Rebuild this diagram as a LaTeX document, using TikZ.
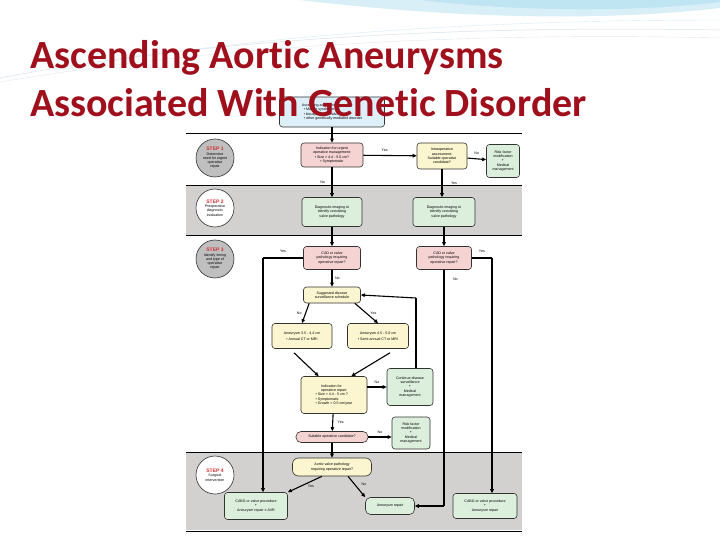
\documentclass[tikz,border=0pt]{standalone}
\usepackage{fontspec}
\setmainfont{Liberation Sans}
\newfontfamily\titlefont[Ligatures={NoCommon,NoRare,NoContextual}]{Carlito}
\usetikzlibrary{arrows.meta}
\definecolor{pinkf}{HTML}{F6D3D3}
\definecolor{yelf}{HTML}{FBF6CF}
\definecolor{grnf}{HTML}{DCEFDD}
\definecolor{bluef}{HTML}{DDF0FA}
\definecolor{band}{HTML}{D3D0D0}
\definecolor{stepred}{HTML}{D03030}
\definecolor{titlered}{HTML}{A0101C}
\definecolor{swoosh}{HTML}{BFE4F2}
\tikzset{
  box/.style={draw=black!80, line width=0.6pt, rounded corners=3pt, align=center,
    font=\fontsize{3.6}{4.3}\selectfont, inner sep=1pt},
  pk/.style={box, fill=pinkf},
  yl/.style={box, fill=yelf},
  gr/.style={box, fill=grnf},
  bl/.style={box, fill=bluef},
  stepc/.style={draw=black!80, line width=0.6pt, circle, minimum size=38pt, inner sep=0pt,
    align=center, font=\fontsize{3.6}{4.3}\selectfont},
  arr/.style={-{Triangle[length=4pt,width=3.5pt]}, line width=1.1pt},
  lbl/.style={font=\fontsize{3.6}{4}\selectfont, inner sep=0.5pt}
}
\begin{document}
\begin{tikzpicture}[x=1pt,y=-1pt]
\useasboundingbox (0,0) rectangle (720,540);
\fill[white] (0,0) rectangle (720,540);
% swoosh
\fill[swoosh!60] (300,0) .. controls (450,18) and (600,22) .. (720,8) -- (720,0) -- cycle;
\fill[swoosh] (420,0) .. controls (520,12) and (640,12) .. (720,2) -- (720,0) -- cycle;
\draw[swoosh!80!black!40, line width=0.5pt] (0,78) .. controls (200,40) and (450,25) .. (720,30);
\draw[swoosh!80!black!30, line width=0.4pt] (0,82) .. controls (220,45) and (470,32) .. (720,38);
\draw[swoosh!70, line width=0.4pt] (60,70) .. controls (250,35) and (480,20) .. (720,20);
% bands
\fill[band] (186,185) rectangle (522,235);
\fill[band] (186,452) rectangle (522,530);
\draw[line width=0.8pt] (186,133) -- (522,133);
\draw[line width=0.6pt] (186,185) -- (522,185);
\draw[line width=0.6pt] (186,235) -- (522,235);
\draw[line width=0.6pt] (186,452) -- (522,452);
\draw[line width=0.8pt] (186,531) -- (522,531);
% steps
\node[stepc, fill=black!25] (s1) at (215,158) {{\color{stepred}\bfseries\fontsize{5}{5}\selectfont STEP 1}\\Determine\\need for urgent\\operative\\repair};
\node[stepc, fill=white] (s2) at (215,208) {{\color{stepred}\bfseries\fontsize{5}{5}\selectfont STEP 2}\\Preoperative\\diagnostic\\evaluation};
\node[stepc, fill=black!25] (s3) at (215,259) {{\color{stepred}\bfseries\fontsize{5}{5}\selectfont STEP 3}\\Identify timing\\and type of\\operative\\repair};
\node[stepc, fill=white] (s4) at (215,475) {{\color{stepred}\bfseries\fontsize{5}{5}\selectfont STEP 4}\\Surgical\\intervention};
% nodes
\node[bl, minimum width=105pt, minimum height=30pt, align=left] (top) at (332,112) {Ascending aortic aneurysm and:\\ \ \ \textbullet\ Marfan syndrome\\ \ \ \textbullet\ bicuspid aortic valve\\ \ \ \textbullet\ other genetically mediated disorder};
\node[pk, minimum width=62pt, minimum height=24pt] (A) at (332,155) {Indication for urgent\\operative management:\\ \textbullet\ Size > 4.4 - 5.0 cm?\\ \textbullet\ Symptomatic};
\node[yl, minimum width=50pt, minimum height=26pt] (B) at (442,156) {Intraoperative\\assessment:\\Suitable operative\\candidate?};
\node[gr, minimum width=33pt, minimum height=33pt] (C) at (503,161) {Risk factor\\modification\\+\\Medical\\management};
\node[gr, minimum width=60pt, minimum height=29pt] (D) at (332,212) {Diagnostic imaging to\\identify coexisting\\valve pathology};
\node[gr, minimum width=62pt, minimum height=29pt] (E) at (444,212) {Diagnostic imaging to\\identify coexisting\\valve pathology};
\node[pk, minimum width=57pt, minimum height=23pt] (F) at (332,258) {CAD or valve\\pathology requiring\\operative repair?};
\node[pk, minimum width=55pt, minimum height=23pt] (G) at (444,258) {CAD or valve\\pathology requiring\\operative repair?};
\node[yl, minimum width=57pt, minimum height=16pt] (H) at (332,295) {Suggested disease\\surveillance schedule};
\node[yl, minimum width=60pt, minimum height=25pt] (I) at (302,336) {Aneurysm 3.5 - 4.4 cm\\[2pt] \textbullet\ Annual CT or MRI};
\node[yl, minimum width=61pt, minimum height=25pt] (J) at (378,336) {Aneurysm 4.5 - 5.0 cm\\[2pt] \textbullet\ Semi-annual CT or MRI};
\node[yl, minimum width=66pt, minimum height=37pt, align=left] (K) at (334,395) {\quad\ \ Indication for\\\quad\ \ operative repair:\\\textbullet\ Size > 4.4 - 5 cm ?\\\textbullet\ Symptomatic\\\textbullet\ Growth > 0.5 cm/year};
\node[gr, minimum width=46pt, minimum height=37pt] (L) at (410,387) {Continue disease\\surveillance\\+\\Medical\\management};
\node[pk, minimum width=72pt, minimum height=11pt, rounded corners=5pt] (M) at (332,437) {Suitable operative candidate?};
\node[gr, minimum width=38pt, minimum height=32pt] (N) at (411,433) {Risk factor\\modification\\+\\Medical\\management};
\node[yl, minimum width=79pt, minimum height=18pt, rounded corners=6pt] (O) at (332,467) {Aortic valve pathology\\requiring operative repair?};
\node[gr, minimum width=63pt, minimum height=27pt] (P) at (256,506) {CABG or valve procedure\\+\\Aneurysm repair ± AVR};
\node[gr, minimum width=49pt, minimum height=17pt, rounded corners=5pt] (Q) at (390,506) {Aneurysm repair};
\node[gr, minimum width=64pt, minimum height=25pt] (R) at (485,506) {CABG or valve procedure\\+\\Aneurysm repair};
% connectors
\draw[arr] (top) -- (A);
\draw[arr] (A) -- node[lbl, above, pos=0.4, yshift=3pt] {Yes} (B);
\draw[arr] (B) -- node[lbl, above, yshift=3pt] {No} (C);
\draw[arr] (A) -- node[lbl, left, xshift=-6pt] {No} (D);
\draw[arr] (B) -- node[lbl, right, xshift=8pt] {Yes} (B |- E.north);
\draw[arr] (D) -- (F);
\draw[arr] (E) -- (E |- G.north);
\draw[arr] (F) -- node[lbl, right, xshift=2pt] {No} (H);
\coordinate (fl) at (263,258);
\coordinate (gr0) at (492,258);
\coordinate (gd) at (444,506);
\draw[line width=1.1pt] (F.west) -- node[lbl, above, yshift=4pt] {Yes} (fl);
\draw[arr] (fl) -- (fl |- P.north);
\draw[line width=1.1pt] (G.east) -- node[lbl, above, yshift=4pt] {Yes} (gr0);
\draw[arr] (gr0) -- (gr0 |- R.north);
\draw[line width=1.1pt] (G.south) -- node[lbl, right, pos=0.04, xshift=8pt] {No} (gd);
\draw[arr] (gd) -- (Q.east);
\draw[arr] ([xshift=6pt]H.south west) -- node[lbl, left, xshift=-3pt] {No} (I.north);
\draw[arr] ([xshift=-6pt]H.south east) -- node[lbl, right, xshift=3pt] {Yes} (J.north);
\draw[arr] ([shift={(-8pt,-4pt)}]I.south) -- ([xshift=18pt]K.north west);
\draw[arr] ([shift={(12pt,-4pt)}]J.south) -- ([xshift=-16pt]K.north east);
\draw[arr] (K.east |- L.west) -- node[lbl, above, yshift=2pt] {No} (L.west);
\coordinate (lu) at (416,298);
\draw[line width=1.1pt] ([xshift=6pt]L.north) -- (lu);
\draw[arr] (lu) -- (H.east);
\draw[arr] (K) -- node[lbl, right, xshift=4pt] {Yes} (M);
\draw[arr] (M.east) -- node[lbl, above, yshift=2pt] {No} (N.west |- M.east);
\draw[arr] (M) -- (O);
\draw[arr] ([xshift=-10pt]O.south) -- node[lbl, below right, xshift=2pt] {Yes} (P.north east);
\draw[arr] ([xshift=16pt]O.south) -- node[lbl, above right, xshift=4pt] {No} (Q.north west);
% title
\node[anchor=west, font=\titlefont\bfseries\fontsize{40}{48}\selectfont, text=titlered, align=left, inner sep=0pt] (title) at (30,79) {Ascending Aortic Aneurysms\\Associated With Genetic Disorder};
\end{tikzpicture}
\end{document}
